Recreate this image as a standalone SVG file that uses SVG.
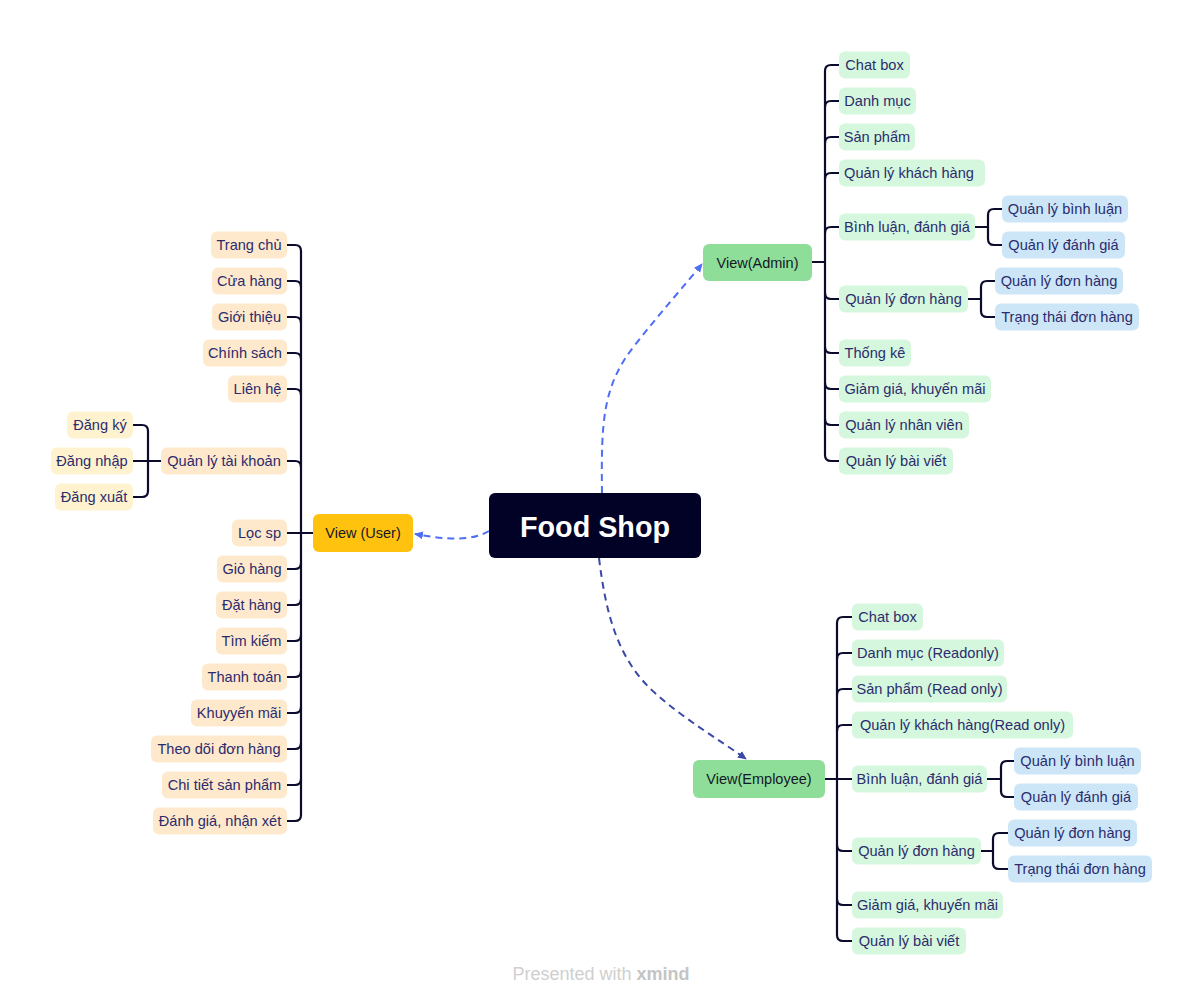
<svg xmlns="http://www.w3.org/2000/svg" width="1203" height="1006" viewBox="0 0 1203 1006">
<defs>
<marker id="arrB" markerWidth="10" markerHeight="10" refX="8" refY="5" orient="auto" markerUnits="userSpaceOnUse"><path d="M0,1 L9,5 L0,9 Z" fill="#4D6EF5"/></marker>
<marker id="arrD" markerWidth="10" markerHeight="10" refX="8" refY="5" orient="auto" markerUnits="userSpaceOnUse"><path d="M0,1 L9,5 L0,9 Z" fill="#3A48A8"/></marker>
</defs>
<style>
text{font-family:"Liberation Sans",Arial,sans-serif;}
.t{font-size:14.6px;fill:#2B2C6E;text-anchor:middle;}
.v{font-size:14.5px;fill:#151826;text-anchor:middle;}
.u1{fill:#FFE9CC;}
.u2{fill:#FFF3CF;}
.g1{fill:#D5F7DD;}
.b2{fill:#CDE6F7;}
.ln{fill:none;stroke:#0B0B2E;stroke-width:2.2;stroke-linecap:round;}
.dsh{fill:none;stroke-width:2;stroke-dasharray:7 5;}
</style>
<rect width="1203" height="1006" fill="#FFFFFF"/>

<g id="connectors">
<path class="dsh" stroke="#4D6EF5" d="M489,531 C472,541 448,540 415,534" marker-end="url(#arrB)"/>
<path class="dsh" stroke="#4D6EF5" d="M602,493 C601,420 603,385 635,345 C660,313 685,285 702,264" marker-end="url(#arrB)"/>
<path class="dsh" stroke="#3A48A8" d="M599,558 C606,615 618,660 655,693 C685,720 720,740 746,759" marker-end="url(#arrD)"/>

<path class="ln" d="M313,533 H287"/>
<path class="ln" d="M301,251 V815"/>
<path class="ln" d="M287,245 H295 Q301,245 301,251"/>
<path class="ln" d="M287,281 H295 Q301,281 301,287"/>
<path class="ln" d="M287,317 H295 Q301,317 301,323"/>
<path class="ln" d="M287,353 H295 Q301,353 301,359"/>
<path class="ln" d="M287,389 H295 Q301,389 301,395"/>
<path class="ln" d="M287,461 H295 Q301,461 301,467"/>
<path class="ln" d="M287,569 H295 Q301,569 301,563"/>
<path class="ln" d="M287,605 H295 Q301,605 301,599"/>
<path class="ln" d="M287,641 H295 Q301,641 301,635"/>
<path class="ln" d="M287,677 H295 Q301,677 301,671"/>
<path class="ln" d="M287,713 H295 Q301,713 301,707"/>
<path class="ln" d="M287,749 H295 Q301,749 301,743"/>
<path class="ln" d="M287,785 H295 Q301,785 301,779"/>
<path class="ln" d="M287,821 H295 Q301,821 301,815"/>
<path class="ln" d="M161,461 H133"/>
<path class="ln" d="M148,431 V491"/>
<path class="ln" d="M133,425 H142 Q148,425 148,431"/>
<path class="ln" d="M133,497 H142 Q148,497 148,491"/>

<path class="ln" d="M812,262 H825"/>
<path class="ln" d="M825,71 V455"/>
<path class="ln" d="M839,65 H831 Q825,65 825,71"/>
<path class="ln" d="M839,101 H831 Q825,101 825,107"/>
<path class="ln" d="M839,137 H831 Q825,137 825,143"/>
<path class="ln" d="M839,173 H831 Q825,173 825,179"/>
<path class="ln" d="M839,227 H831 Q825,227 825,233"/>
<path class="ln" d="M839,299 H831 Q825,299 825,293"/>
<path class="ln" d="M839,353 H831 Q825,353 825,347"/>
<path class="ln" d="M839,389 H831 Q825,389 825,383"/>
<path class="ln" d="M839,425 H831 Q825,425 825,419"/>
<path class="ln" d="M839,461 H831 Q825,461 825,455"/>
<path class="ln" d="M975,227 H988"/>
<path class="ln" d="M988,215 V239"/>
<path class="ln" d="M1002,209 H994 Q988,209 988,215"/>
<path class="ln" d="M1002,245 H994 Q988,245 988,239"/>
<path class="ln" d="M968,299 H981"/>
<path class="ln" d="M981,287 V311"/>
<path class="ln" d="M995,281 H987 Q981,281 981,287"/>
<path class="ln" d="M995,317 H987 Q981,317 981,311"/>

<path class="ln" d="M825,779 H852"/>
<path class="ln" d="M837,623 V935"/>
<path class="ln" d="M852,617 H843 Q837,617 837,623"/>
<path class="ln" d="M852,653 H843 Q837,653 837,659"/>
<path class="ln" d="M852,689 H843 Q837,689 837,695"/>
<path class="ln" d="M852,725 H843 Q837,725 837,731"/>
<path class="ln" d="M852,851 H843 Q837,851 837,845"/>
<path class="ln" d="M852,905 H843 Q837,905 837,899"/>
<path class="ln" d="M852,941 H843 Q837,941 837,935"/>
<path class="ln" d="M987,779 H1001"/>
<path class="ln" d="M1001,767 V791"/>
<path class="ln" d="M1014,761 H1007 Q1001,761 1001,767"/>
<path class="ln" d="M1014,797 H1007 Q1001,797 1001,791"/>
<path class="ln" d="M981,851 H993"/>
<path class="ln" d="M993,839 V863"/>
<path class="ln" d="M1008,833 H999 Q993,833 993,839"/>
<path class="ln" d="M1008,869 H999 Q993,869 993,863"/>
</g>

<g id="food-shop"><rect x="489" y="493" width="212" height="65" rx="6" fill="#020226"/><text x="595" y="537" font-size="30" font-weight="bold" fill="#FFFFFF" text-anchor="middle" textLength="150" lengthAdjust="spacingAndGlyphs">Food Shop</text></g>

<g id="view-user"><rect x="313" y="514" width="100" height="38" rx="6" fill="#FFC20E"/><text class="v" x="363" y="538">View (User)</text></g>
<g id="view-admin"><rect x="703" y="244" width="109" height="37" rx="6" fill="#8EDE99"/><text class="v" x="757.5" y="267.5">View(Admin)</text></g>
<g id="view-employee"><rect x="693" y="760" width="132" height="38" rx="6" fill="#8EDE99"/><text class="v" x="759" y="784">View(Employee)</text></g>

<g id="u-trangchu"><rect class="u1" x="211" y="231.5" width="76" height="27" rx="6"/><text class="t" x="249" y="250">Trang chủ</text></g>
<g id="u-cuahang"><rect class="u1" x="212" y="267.5" width="75" height="27" rx="6"/><text class="t" x="249.5" y="286">Cửa hàng</text></g>
<g id="u-gioithieu"><rect class="u1" x="212" y="303.5" width="75" height="27" rx="6"/><text class="t" x="249.5" y="322">Giới thiệu</text></g>
<g id="u-chinhsach"><rect class="u1" x="203" y="339.5" width="84" height="27" rx="6"/><text class="t" x="245" y="358">Chính sách</text></g>
<g id="u-lienhe"><rect class="u1" x="228" y="375.5" width="59" height="27" rx="6"/><text class="t" x="257.5" y="394">Liên hệ</text></g>
<g id="u-qltk"><rect class="u1" x="161" y="447.5" width="126" height="27" rx="6"/><text class="t" x="224" y="466">Quản lý tài khoản</text></g>
<g id="u-dangky"><rect class="u2" x="67" y="411.5" width="66" height="27" rx="6"/><text class="t" x="100" y="430">Đăng ký</text></g>
<g id="u-dangnhap"><rect class="u2" x="51" y="447.5" width="82" height="27" rx="6"/><text class="t" x="92" y="466">Đăng nhập</text></g>
<g id="u-dangxuat"><rect class="u2" x="55" y="483.5" width="78" height="27" rx="6"/><text class="t" x="94" y="502">Đăng xuất</text></g>
<g id="u-locsp"><rect class="u1" x="232" y="519.5" width="55" height="27" rx="6"/><text class="t" x="259.5" y="538">Lọc sp</text></g>
<g id="u-giohang"><rect class="u1" x="217" y="555.5" width="70" height="27" rx="6"/><text class="t" x="252" y="574">Giỏ hàng</text></g>
<g id="u-dathang"><rect class="u1" x="216" y="591.5" width="71" height="27" rx="6"/><text class="t" x="251.5" y="610">Đặt hàng</text></g>
<g id="u-timkiem"><rect class="u1" x="216" y="627.5" width="71" height="27" rx="6"/><text class="t" x="251.5" y="646">Tìm kiếm</text></g>
<g id="u-thanhtoan"><rect class="u1" x="202" y="663.5" width="85" height="27" rx="6"/><text class="t" x="244.5" y="682">Thanh toán</text></g>
<g id="u-khuyenmai"><rect class="u1" x="191" y="699.5" width="96" height="27" rx="6"/><text class="t" x="239" y="718">Khuyyến mãi</text></g>
<g id="u-theodoi"><rect class="u1" x="151" y="735.5" width="136" height="27" rx="6"/><text class="t" x="219" y="754">Theo dõi đơn hàng</text></g>
<g id="u-chitiet"><rect class="u1" x="162" y="771.5" width="125" height="27" rx="6"/><text class="t" x="224.5" y="790">Chi tiết sản phẩm</text></g>
<g id="u-danhgia"><rect class="u1" x="153" y="807.5" width="134" height="27" rx="6"/><text class="t" x="220" y="826">Đánh giá, nhận xét</text></g>

<g id="a-chatbox"><rect class="g1" x="839" y="51.5" width="71" height="27" rx="6"/><text class="t" x="874.5" y="70">Chat box</text></g>
<g id="a-danhmuc"><rect class="g1" x="839" y="87.5" width="77" height="27" rx="6"/><text class="t" x="877.5" y="106">Danh mục</text></g>
<g id="a-sanpham"><rect class="g1" x="839" y="123.5" width="76" height="27" rx="6"/><text class="t" x="877" y="142">Sản phẩm</text></g>
<g id="a-qlkh"><rect class="g1" x="839" y="159.5" width="146" height="27" rx="6"/><text class="t" x="909" y="178">Quản lý khách hàng</text></g>
<g id="a-binhluan"><rect class="g1" x="839" y="213.5" width="136" height="27" rx="6"/><text class="t" x="907" y="232">Bình luận, đánh giá</text></g>
<g id="a-qlbl"><rect class="b2" x="1002" y="195.5" width="126" height="27" rx="6"/><text class="t" x="1065" y="214">Quản lý bình luận</text></g>
<g id="a-qldg"><rect class="b2" x="1002" y="231.5" width="123" height="27" rx="6"/><text class="t" x="1063.5" y="250">Quản lý đánh giá</text></g>
<g id="a-qldh"><rect class="g1" x="839" y="285.5" width="129" height="27" rx="6"/><text class="t" x="903.5" y="304">Quản lý đơn hàng</text></g>
<g id="a-qldh2"><rect class="b2" x="995" y="267.5" width="128" height="27" rx="6"/><text class="t" x="1059" y="286">Quản lý đơn hàng</text></g>
<g id="a-trangthai"><rect class="b2" x="995" y="303.5" width="144" height="27" rx="6"/><text class="t" x="1067" y="322">Trạng thái đơn hàng</text></g>
<g id="a-thongke"><rect class="g1" x="839" y="339.5" width="72" height="27" rx="6"/><text class="t" x="875" y="358">Thống kê</text></g>
<g id="a-giamgia"><rect class="g1" x="839" y="375.5" width="152" height="27" rx="6"/><text class="t" x="915" y="394">Giảm giá, khuyến mãi</text></g>
<g id="a-qlnv"><rect class="g1" x="839" y="411.5" width="130" height="27" rx="6"/><text class="t" x="904" y="430">Quản lý nhân viên</text></g>
<g id="a-qlbv"><rect class="g1" x="839" y="447.5" width="114" height="27" rx="6"/><text class="t" x="896" y="466">Quản lý bài viết</text></g>

<g id="e-chatbox"><rect class="g1" x="852" y="603.5" width="71" height="27" rx="6"/><text class="t" x="887.5" y="622">Chat box</text></g>
<g id="e-danhmuc"><rect class="g1" x="852" y="639.5" width="152" height="27" rx="6"/><text class="t" x="928" y="658">Danh mục (Readonly)</text></g>
<g id="e-sanpham"><rect class="g1" x="852" y="675.5" width="155" height="27" rx="6"/><text class="t" x="929.5" y="694">Sản phẩm (Read only)</text></g>
<g id="e-qlkh"><rect class="g1" x="852" y="711.5" width="221" height="27" rx="6"/><text class="t" x="962.5" y="730">Quản lý khách hàng(Read only)</text></g>
<g id="e-binhluan"><rect class="g1" x="852" y="765.5" width="135" height="27" rx="6"/><text class="t" x="919.5" y="784">Bình luận, đánh giá</text></g>
<g id="e-qlbl"><rect class="b2" x="1014" y="747.5" width="127" height="27" rx="6"/><text class="t" x="1077.5" y="766">Quản lý bình luận</text></g>
<g id="e-qldg"><rect class="b2" x="1014" y="783.5" width="124" height="27" rx="6"/><text class="t" x="1076" y="802">Quản lý đánh giá</text></g>
<g id="e-qldh"><rect class="g1" x="852" y="837.5" width="129" height="27" rx="6"/><text class="t" x="916.5" y="856">Quản lý đơn hàng</text></g>
<g id="e-qldh2"><rect class="b2" x="1008" y="819.5" width="129" height="27" rx="6"/><text class="t" x="1072.5" y="838">Quản lý đơn hàng</text></g>
<g id="e-trangthai"><rect class="b2" x="1008" y="855.5" width="144" height="27" rx="6"/><text class="t" x="1080" y="874">Trạng thái đơn hàng</text></g>
<g id="e-giamgia"><rect class="g1" x="852" y="891.5" width="151" height="27" rx="6"/><text class="t" x="927.5" y="910">Giảm giá, khuyến mãi</text></g>
<g id="e-qlbv"><rect class="g1" x="852" y="927.5" width="114" height="27" rx="6"/><text class="t" x="909" y="946">Quản lý bài viết</text></g>

<g id="footer"><text x="601" y="980" font-size="18" fill="#CFCFCF" text-anchor="middle">Presented with <tspan font-weight="bold" fill="#C4C4C4">xmind</tspan></text></g>
</svg>
